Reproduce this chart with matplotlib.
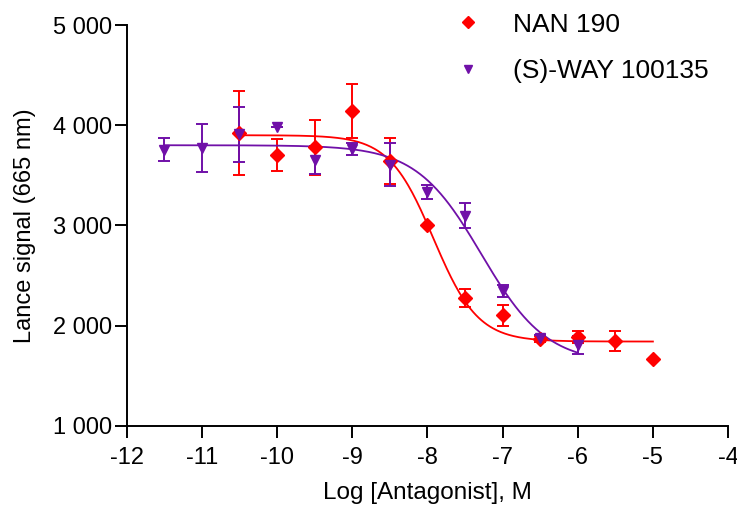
import numpy as np
import matplotlib.pyplot as plt

plt.rcParams['font.family'] = ['Liberation Sans', 'DejaVu Sans']
plt.rcParams['axes.unicode_minus'] = False

# NAN 190
nan_x = [-10.5, -10, -9.5, -9, -8.5, -8, -7.5, -7, -6.5, -6, -5.5, -5]
nan_y = [3920, 3700, 3780, 4140, 3645, 3005, 2270, 2100, 1865, 1885, 1845, 1665]
nan_err = [420, 160, 275, 270, 230, 0, 90, 100, 30, 60, 100, 0]

# (S)-WAY 100135
way_x = [-11.5, -11, -10.5, -10, -9.5, -9, -8.5, -8, -7.5, -7, -6.5, -6]
way_y = [3755, 3770, 3910, 3985, 3655, 3765, 3605, 3330, 3095, 2345, 1880, 1810]
way_err = [115, 240, 275, 0, 140, 60, 215, 70, 125, 60, 25, 90]

# fitted four-parameter curves: top, bottom, logIC50, hill slope, x range
nan_fit = (3900, 1840, -7.92, 1.47, -10.5, -5.0)
way_fit = (3800, 1620, -7.28, 1.0, -11.5, -6.0)

red = '#FF0000'
purple = '#7010A8'
fs = 17


def curve(top, bottom, logic50, hill, x0, x1):
    xs = np.linspace(x0, x1, 300)
    return xs, bottom + (top - bottom) / (1 + 10 ** ((xs - logic50) * hill))


fig = plt.figure(figsize=(7.37, 5.11), dpi=100)
ax = fig.add_axes([0.1719, 0.167, 0.816, 0.784])

for xv, yv, ev, fit, col, mk, ms, lab in [
        (nan_x, nan_y, nan_err, nan_fit, red, 'D', 7, 'NAN 190'),
        (way_x, way_y, way_err, way_fit, purple, 'v', 7, '(S)-WAY 100135')]:
    cx, cy = curve(*fit)
    ax.plot(cx, cy, color=col, lw=1.3)
    ax.errorbar(xv, yv, yerr=ev, fmt=mk, color=col, ms=ms, capsize=4,
                elinewidth=1.4, capthick=1.4, label=lab)

ax.set_xlim(-12, -4)
ax.set_ylim(1000, 5000)
ax.set_xticks(range(-12, -3))
ax.set_yticks([1000, 2000, 3000, 4000, 5000])
ax.set_yticklabels(['1 000', '2 000', '3 000', '4 000', '5 000'])
ax.spines['top'].set_visible(False)
ax.spines['right'].set_visible(False)
for s in ('left', 'bottom'):
    ax.spines[s].set_linewidth(1.4)
ax.tick_params(direction='out', length=8.5, width=1.4, labelsize=fs, colors='black', pad=2)
ax.tick_params(axis='x', pad=7)
ax.set_xlabel('Log [Antagonist], M', fontsize=fs + 0.5, labelpad=9)
ax.set_ylabel('Lance signal (665 nm)', fontsize=fs, labelpad=12)

h, l = ax.get_legend_handles_labels()
h = [x[0] for x in h]
fig.legend(h, l, loc='upper left', bbox_to_anchor=(433 / 737, 1 - 2 / 511), frameon=False,
           fontsize=19, handletextpad=0.8, labelspacing=0.85, markerscale=0.9,
           handlelength=1.85, borderaxespad=0)

fig.savefig('out.png', dpi=100)
